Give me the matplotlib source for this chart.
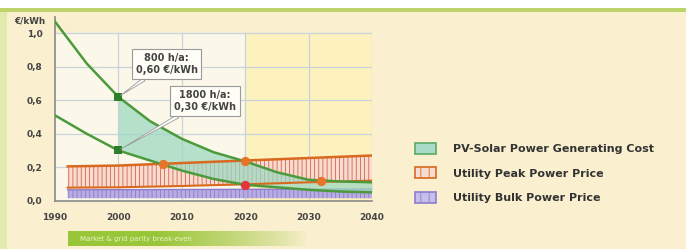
import numpy as np
import matplotlib.pyplot as plt
from matplotlib.patches import Patch, Rectangle

plt.rcParams['font.family'] = ['DejaVu Sans']
plt.rcParams['hatch.linewidth'] = 0.6

# PV generating cost, 800 h/a (upper) and 1800 h/a (lower), EUR/kWh
pv_years = [1990, 1995, 2000, 2005, 2010, 2015, 2020, 2025, 2030, 2035, 2040]
pv_800 = [1.07, 0.82, 0.62, 0.475, 0.37, 0.29, 0.235, 0.17, 0.125, 0.115, 0.11]
pv_1800 = [0.51, 0.40, 0.30, 0.24, 0.18, 0.13, 0.095, 0.08, 0.065, 0.055, 0.05]

# utility peak power price band
peak_years = [1992, 2000, 2010, 2020, 2030, 2040]
peak_high = [0.205, 0.21, 0.225, 0.24, 0.255, 0.27]
peak_low = [0.078, 0.08, 0.088, 0.098, 0.11, 0.12]

# utility bulk power price band
bulk_years = [1992, 2040]
bulk_high = [0.065, 0.07]
bulk_low = [0.015, 0.015]

# highlighted points
pv_mark_x = [2000, 2000]
pv_mark_y = [0.62, 0.30]
cross_x = [2007, 2020, 2032]
cross_y = [0.22, 0.235, 0.115]
red_x = [2020]
red_y = [0.095]

callouts = ["800 h/a:\n0,60 €/kWh", "1800 h/a:\n0,30 €/kWh"]
legend_labels = ["PV-Solar Power Generating Cost", "Utility Peak Power Price",
                 "Utility Bulk Power Price"]
xticks = [1990, 2000, 2010, 2020, 2030, 2040]
yticks = [0.0, 0.2, 0.4, 0.6, 0.8, 1.0]

fig = plt.figure(figsize=(6.86, 2.49), dpi=100, facecolor='#FAEFCF')

# frame decoration
fig.patches.append(Rectangle((0, 1 - 8 / 249), 1, 8 / 249, transform=fig.transFigure,
                             facecolor='white', edgecolor='none', zorder=-5))
fig.patches.append(Rectangle((0, 1 - 12 / 249), 1, 4 / 249, transform=fig.transFigure,
                             facecolor='#BCD46A', edgecolor='none', zorder=-5))
fig.patches.append(Rectangle((0, 0), 7 / 686, 1 - 12 / 249, transform=fig.transFigure,
                             facecolor='#E3EAAE', edgecolor='none', zorder=-5))

ax = fig.add_axes([55 / 686, 1 - 200.7 / 249, 317 / 686, 184.1 / 249])
ax.set_facecolor('none')
ax.set_xlim(1990, 2040)
ax.set_ylim(0, 1.1)

ax.axvspan(1990, 2020, ymin=0, ymax=1.0 / 1.1, color='#FBF8EA', zorder=0)
ax.axvspan(2020, 2040, ymin=0, ymax=1.0 / 1.1, color='#FDF1BE', zorder=0)
for yv in yticks[1:]:
    ax.plot([1990, 2040], [yv, yv], color='#C9D3DC', lw=0.9, zorder=1)
for xv in xticks[1:]:
    ax.plot([xv, xv], [0, 1.0], color='#C9D3DC', lw=0.9, zorder=1)

x = np.array(pv_years)
ax.fill_between(bulk_years, bulk_low, bulk_high, facecolor='#B7ADE0', edgecolor='#8C7CD0',
                hatch='||||', lw=0, zorder=2)
ax.plot(bulk_years, bulk_high, color='#8C7CD0', lw=1, zorder=2)
ax.fill_between(peak_years, peak_low, peak_high, facecolor='#F7DDD0', edgecolor='#D86050',
                hatch='||||', lw=0, zorder=2)

sel = x >= 2000
ax.fill_between(x[sel], np.array(pv_1800)[sel], np.array(pv_800)[sel], color='#9ED8C0',
                alpha=0.75, lw=0, zorder=3)

ax.plot(peak_years, peak_high, color='#D8691F', lw=1.8, zorder=4)
ax.plot(peak_years, peak_low, color='#D8691F', lw=1.5, zorder=4)
ax.plot(pv_years, pv_800, color='#4C9A3C', lw=1.8, zorder=5)
ax.plot(pv_years, pv_1800, color='#4C9A3C', lw=1.8, zorder=5)

ax.scatter(cross_x, cross_y, s=45, color='#E8742A', zorder=6, lw=0)
ax.scatter(red_x, red_y, s=45, color='#E0383A', zorder=6, lw=0)
ax.scatter(pv_mark_x, pv_mark_y, s=30, color='#2F7F2A', marker='s', zorder=6, lw=0)

box_pos = [(2007.6, 0.817), (2013.6, 0.596)]
for txt, (bx, by), mx, my in zip(callouts, box_pos, pv_mark_x, pv_mark_y):
    ax.annotate(txt, xy=(mx, my), xytext=(bx, by), ha='center', va='center',
                fontsize=7, fontweight='bold', color='#444444', zorder=8, linespacing=1.3,
                bbox=dict(boxstyle='square,pad=0.4', fc='#FFFEF6', ec='#9A9A9A', lw=0.8),
                arrowprops=dict(arrowstyle='wedge,tail_width=0.35', fc='white',
                                ec='#9A9A9A', lw=0.6, shrinkA=0, shrinkB=2))

for s in ['top', 'right']:
    ax.spines[s].set_visible(False)
for s in ['left', 'bottom']:
    ax.spines[s].set_color('#8A8A8A')
    ax.spines[s].set_linewidth(1.2)
ax.set_xticks(xticks)
ax.set_yticks(yticks)
ax.set_xticklabels([str(v) for v in xticks])
ax.set_yticklabels([f"{v:.1f}".replace('.', ',') for v in yticks])
ax.tick_params(length=0, labelsize=6.5, labelcolor='#444444', pad=9)
ax.tick_params(axis='y', pad=9)
for lab in ax.get_xticklabels() + ax.get_yticklabels():
    lab.set_fontweight('bold')
fig.text(14 / 686, 1 - 21 / 249, "€/kWh", fontsize=6.3, fontweight='bold',
         color='#444444', va='center')

handles = [Patch(facecolor='#A8DCC6', edgecolor='#5AAA6A', lw=1.2),
           Patch(facecolor='#F7DDD0', edgecolor='#D8691F', hatch='||', lw=1.2),
           Patch(facecolor='#C6BEEA', edgecolor='#8C7CD0', hatch='||', lw=1.2)]
fig.legend(handles, legend_labels, loc='upper left', bbox_to_anchor=(405 / 686, 1 - 133 / 249),
           frameon=False, prop={'size': 8, 'weight': 'bold'}, labelcolor='#333333',
           handlelength=1.9, handleheight=1.1, handletextpad=1.5, labelspacing=1.2)

# banner below the axis
bax = fig.add_axes([68 / 686, 3 / 249, 240 / 686, 15 / 249])
grad = np.ones((1, 256, 4))
grad[..., 0] = 0.60
grad[..., 1] = 0.78
grad[..., 2] = 0.22
grad[..., 3] = np.clip(1.6 - np.linspace(0, 1.6, 256), 0, 1) ** 0.8
bax.imshow(grad, aspect='auto', extent=(0, 1, 0, 1))
bax.axis('off')
bax.text(0.05, 0.5, "Market & grid parity break-even", fontsize=5, color='#E8F2C8',
         va='center', ha='left')

fig.savefig('out.png', dpi=100, facecolor=fig.get_facecolor())
